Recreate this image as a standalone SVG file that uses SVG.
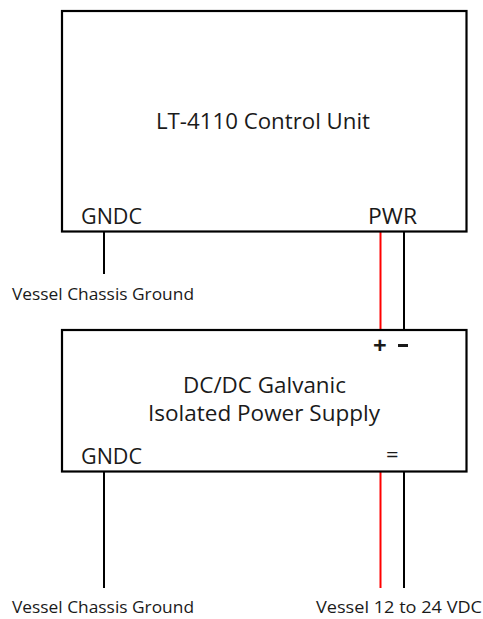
<svg xmlns="http://www.w3.org/2000/svg" width="483" height="619" viewBox="0 0 483 619">
<style>
.box{fill:#fff;stroke:#000;stroke-width:2.2}
.w{stroke:#000;stroke-width:2;fill:none}
.r{stroke:#ff0000;stroke-width:2;fill:none}
text{font-family:"Open Sans","Liberation Sans",sans-serif;fill:#1a1a1a}
.big{font-size:21.5px}
.sm{font-size:16.5px}
</style>
<rect width="483" height="619" fill="#fff"/>
<g id="connectors">
<line class="w" x1="104" y1="232" x2="104" y2="274"/>
<line class="r" x1="380.5" y1="232" x2="380.5" y2="330"/>
<line class="w" x1="404" y1="232" x2="404" y2="330"/>
<line class="w" x1="104" y1="472" x2="104" y2="588"/>
<line class="r" x1="380.5" y1="472" x2="380.5" y2="588"/>
<line class="w" x1="404" y1="472" x2="404" y2="588"/>
</g>
<g id="control-unit">
<rect class="box" x="62" y="11" width="404.5" height="220.5"/>
<text class="big" x="156" y="129" textLength="214" lengthAdjust="spacingAndGlyphs">LT-4110 Control Unit</text>
<text class="big" x="81" y="224" textLength="61" lengthAdjust="spacingAndGlyphs">GNDC</text>
<text class="big" x="368" y="224" textLength="49" lengthAdjust="spacingAndGlyphs">PWR</text>
</g>
<g id="chassis-ground-1">
<text class="sm" x="12" y="300" textLength="182" lengthAdjust="spacingAndGlyphs">Vessel Chassis Ground</text>
</g>
<g id="power-supply">
<rect class="box" x="62" y="330" width="404.5" height="141.5"/>
<text x="373" y="354" style="font-size:24px;font-weight:bold">+</text>
<rect x="398" y="344" width="10" height="3" fill="#1a1a1a"/>
<text class="big" x="183" y="393" textLength="163" lengthAdjust="spacingAndGlyphs">DC/DC Galvanic</text>
<text class="big" x="148" y="421" textLength="232" lengthAdjust="spacingAndGlyphs">Isolated Power Supply</text>
<text class="big" x="81" y="464" textLength="61" lengthAdjust="spacingAndGlyphs">GNDC</text>
<text x="386" y="462" style="font-size:22px">=</text>
</g>
<g id="chassis-ground-2">
<text class="sm" x="12" y="613" textLength="182" lengthAdjust="spacingAndGlyphs">Vessel Chassis Ground</text>
</g>
<g id="vessel-supply">
<text class="sm" x="316" y="613" textLength="166" lengthAdjust="spacingAndGlyphs">Vessel 12 to 24 VDC</text>
</g>
</svg>
